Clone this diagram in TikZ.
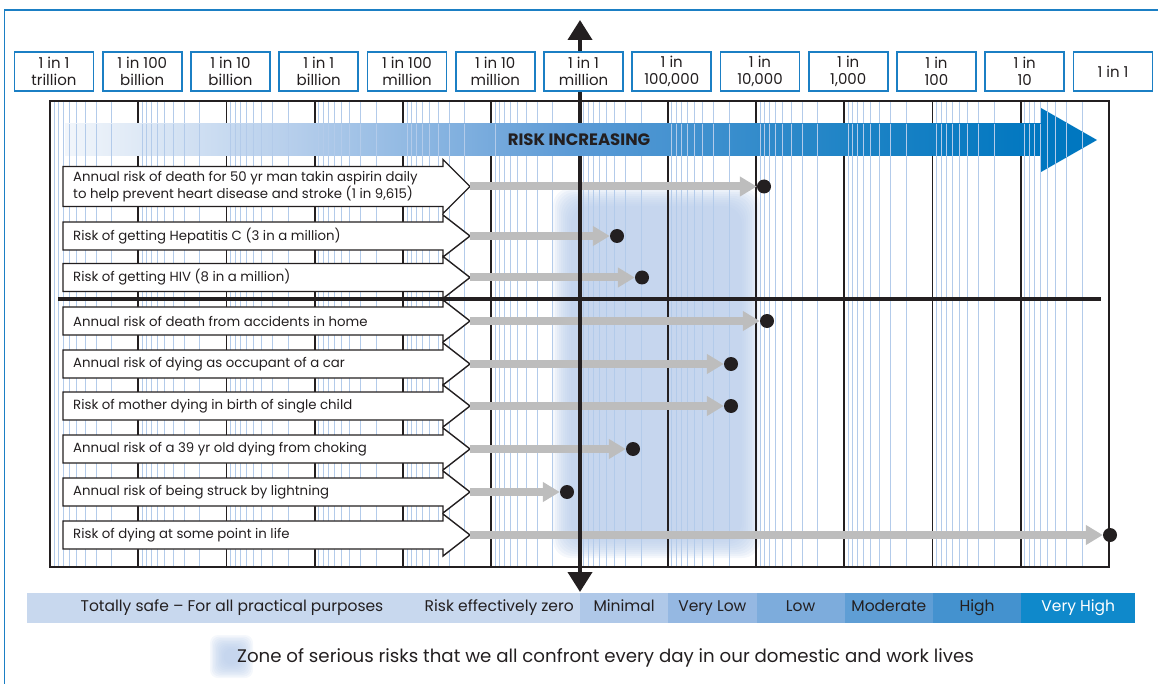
\documentclass[tikz,border=0pt]{standalone}
\usepackage{fontspec}
\setmainfont{Poppins}
\usetikzlibrary{arrows.meta, positioning, calc, fit}

\definecolor{frameblue}{HTML}{1B7FC4}
\definecolor{gridblue}{HTML}{B3CBEA}
\definecolor{zoneblue}{HTML}{B6CBE9}
\definecolor{riskgray}{HTML}{BDBDBD}
\definecolor{inkblack}{HTML}{231F20}
\definecolor{bandA}{HTML}{F2F6FB}
\definecolor{bandB}{HTML}{B4CDEB}
\definecolor{bandC}{HTML}{5C9BD6}
\definecolor{bandD}{HTML}{1F84C6}
\definecolor{bandE}{HTML}{0077C0}
\definecolor{safeblue}{HTML}{C8D8EE}
\definecolor{minblue}{HTML}{AFC8E8}
\definecolor{vlowblue}{HTML}{95B8E2}
\definecolor{lowblue}{HTML}{7DACDC}
\definecolor{modblue}{HTML}{5F9ED5}
\definecolor{highblue}{HTML}{4492CF}
\definecolor{vhighblue}{HTML}{0F89CB}

\pgfdeclarehorizontalshading{riskband}{100bp}{color(0bp)=(bandA); color(25bp)=(bandA);
  color(37bp)=(bandB); color(51bp)=(bandC); color(65bp)=(bandD); color(75bp)=(bandE); color(100bp)=(bandE)}

\begin{document}
\begin{tikzpicture}[x=1pt, y=-1pt,
  scalebox/.style={draw=frameblue, line width=1.6pt, fill=white, minimum width=79pt, minimum height=39pt,
    inner sep=0pt, align=center, text=inkblack, font=\fontsize{15}{16.5}\selectfont},
  gridline/.style={gridblue, line width=0.9pt},
  decade/.style={inkblack, line width=1.8pt},
  labelshape/.style={draw=inkblack, line width=1.4pt, fill=white, line join=miter},
  labeltext/.style={anchor=west, inner sep=0pt, align=left, text=inkblack, font=\fontsize{13.3}{16.5}\selectfont},
  riskline/.style={riskgray, line width=8pt, -{Triangle[length=17pt, width=19pt]}},
  riskdot/.style={circle, fill=inkblack, minimum size=14pt, inner sep=0pt},
  barseg/.style={minimum height=30pt, minimum width=88.25pt, inner sep=0pt, outer sep=0pt,
    text height=11pt, text depth=3.5pt, text=inkblack, font=\fontsize{15.5}{17}\selectfont},
  bartext/.style={inner sep=0pt, text height=11pt, text depth=3.5pt, text=inkblack, font=\fontsize{15.5}{17}\selectfont}]

\useasboundingbox (0,0) rectangle (1158,684);
\draw[frameblue, line width=1.5pt] (4.5,10) rectangle (1170,700);

% zone of everyday risks
\foreach \b in {0,...,9}
  \fill[zoneblue, fill opacity=0.14, rounded corners=18pt] ({553+2*\b},{188+2*\b}) rectangle ({760-2*\b},{558-2*\b});

% log grid
\foreach \k in {1,...,12}
  \foreach \m in {2,...,9}
    \draw[gridline] ({50+88.25*\k-88.25*log10(\m)},101) -- ++(0,466);
\foreach \k in {1,...,11}
  \draw[decade] ({50+88.25*\k},101) -- ++(0,466);
\draw[inkblack, line width=2.4pt] (50,101) rectangle (1109,567);
\draw[inkblack, line width=3.4pt] (58,299) -- (1101,299);

% risks
\foreach \i/\y/\h/\dx/\txt in {
    1/186.5/40/764/{Annual risk of death for 50 yr man takin aspirin daily\\to help prevent heart disease and stroke (1 in 9,615)},
    2/236/28/617/{Risk of getting Hepatitis C (3 in a million)},
    3/277.5/28/642/{Risk of getting HIV (8 in a million)},
    4/321/28/767/{Annual risk of death from accidents in home},
    5/364/28/731/{Annual risk of dying as occupant of a car},
    6/406/28/731/{Risk of mother dying in birth of single child},
    7/449/28/633/{Annual risk of a 39 yr old dying from choking},
    8/492/28/567/{Annual risk of being struck by lightning},
    9/535/28/1110/{Risk of dying at some point in life}}{
  \path[labelshape] (63,{\y-\h/2}) -- (443,{\y-\h/2}) -- (443,{\y-\h/2-7}) -- (470,\y)
    -- (443,{\y+\h/2+7}) -- (443,{\y+\h/2}) -- (63,{\y+\h/2}) -- cycle;
  \node[labeltext] (lab\i) at (73,\y) {\txt};
  \coordinate (tip\i) at (470,\y);
  \node[riskdot] (dot\i) at (\dx,\y) {};
  \draw[riskline] (tip\i) -- (dot\i);
}

% axis
\coordinate (axtop) at (580,20);
\coordinate (axbot) at (580,592);
\draw[inkblack, line width=4pt, {Triangle[length=20pt, width=24pt]}-{Triangle[length=20pt, width=24pt]}] (axtop) -- (axbot);

% risk increasing band
\shade[shading=riskband] (65,124) rectangle (1041,156);
\fill[bandE] (1041,108) -- (1097,140) -- (1041,172) -- cycle;
\begin{scope}
  \clip (65,124) rectangle (1041,156) (1041,108) -- (1097,140) -- (1041,172) -- cycle;
  \foreach \k in {1,...,12}
    \foreach \m in {2,...,9}
      \draw[gridline] ({50+88.25*\k-88.25*log10(\m)},104) -- ++(0,70);
\end{scope}
\begin{scope}
  \clip (498,124) rectangle (660,156);
  \shade[shading=riskband] (65,124) rectangle (1041,156);
\end{scope}
\node[font=\bfseries\fontsize{16.5}{18}\selectfont, text=inkblack] (riskinc) at (579,140) {RISK INCREASING};

% scale
\foreach \k/\txt in {0/{1 in 1\\trillion}, 1/{1 in 100\\billion}, 2/{1 in 10\\billion}, 3/{1 in 1\\billion},
    4/{1 in 100\\million}, 5/{1 in 10\\million}, 6/{1 in 1\\million}, 7/{1 in\\100,000},
    8/{1 in\\10,000}, 9/{1 in\\1,000}, 10/{1 in\\100}, 11/{1 in\\10}, 12/{1 in 1}}
  \node[scalebox] (scale\k) at ({54+88.25*\k},71.5) {\txt};

% bottom bar
\node[barseg, fill=safeblue, minimum width=553pt, anchor=west] (safe) at (27,608) {};
\node[bartext] (safetxt) at (232,608) {Totally safe -- For all practical purposes};
\node[bartext, anchor=east] (zerotxt) at (574,608) {Risk effectively zero};
\node[barseg, fill=minblue, right=0pt of safe] (minimal) {Minimal};
\node[barseg, fill=vlowblue, right=0pt of minimal] (verylow) {Very Low};
\node[barseg, fill=lowblue, right=0pt of verylow] (low) {Low};
\node[barseg, fill=modblue, right=0pt of low] (moderate) {Moderate};
\node[barseg, fill=highblue, right=0pt of moderate] (high) {High};
\node[barseg, fill=vhighblue, text=white, minimum width=114pt, right=0pt of high] (veryhigh) {Very High};

% legend
\foreach \b in {0,...,9}
  \fill[zoneblue, fill opacity=0.14, rounded corners=8pt] ({210+1.5*\b},{635+1.5*\b}) rectangle ({253-1.5*\b},{678-1.5*\b});
\node[minimum size=43pt, inner sep=0pt] (zonekey) at (231.5,656.5) {};
\node[bartext, anchor=west, font=\fontsize{18.2}{20}\selectfont] (zonetext) at (237,659)
  {Zone of serious risks that we all confront every day in our domestic and work lives};
\end{tikzpicture}
\end{document}
